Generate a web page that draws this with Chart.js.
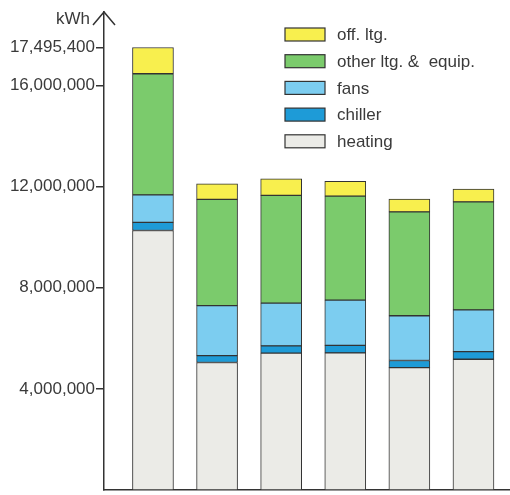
<!DOCTYPE html>
<html>
<head>
<meta charset="utf-8">
<script src="https://cdn.jsdelivr.net/npm/chart.js@4.4.1/dist/chart.umd.min.js"></script>
<style>
  html, body { margin: 0; padding: 0; background: #fff; }
  #wrap { width: 510px; height: 495px; }
</style>
</head>
<body>
<div id="wrap"><canvas id="c" width="510" height="495"></canvas></div>
<script>
// ---- data ----
const categories = ["Base case", "Alt. 1", "Alt. 2", "Alt. 3", "Alt. 4", "Alt. 5"];
const heating   = [10260000, 5040000, 5410000, 5420000, 4840000, 5170000];
const chiller   = [  320000,  270000,  290000,  300000,  280000,  300000];
const fans      = [ 1090000, 1980000, 1690000, 1790000, 1770000, 1650000];
const otherLtg  = [ 4790000, 4200000, 4260000, 4110000, 4110000, 4270000];
const offLtg    = [ 1035400,  620000,  650000,  580000,  500000,  510000];
const tickValues = [4000000, 8000000, 12000000, 16000000, 17495400];
const unitLabel = "kWh";

const seriesNames  = ["heating", "chiller", "fans", "other ltg. & equip.", "off. ltg."];
const seriesValues = [heating, chiller, fans, otherLtg, offLtg];
const seriesColors = ["#ebebe7", "#1e9bd7", "#7ccdf0", "#7bcb6c", "#f8ef4e"];

const FONT = '"Liberation Sans", Arial, Helvetica, sans-serif';
const TEXT = '#3a3a3a';
const LINE = '#333333';

const datasets = seriesNames.map((name, s) => ({
  label: name,
  data: seriesValues[s].map((v, i) => ({ x: i, y: v })),
  backgroundColor: seriesColors[s],
  borderColor: LINE,
  borderWidth: 1,
  borderSkipped: false,
  barThickness: 41
}));

const decor = {
  id: 'decor',
  afterDraw(chart) {
    const ctx = chart.ctx;
    const a = chart.chartArea;
    ctx.save();
    // axis arrow head
    ctx.strokeStyle = LINE;
    ctx.lineWidth = 1.5;
    ctx.beginPath();
    ctx.moveTo(a.left - 11, a.top + 13);
    ctx.lineTo(a.left, a.top);
    ctx.lineTo(a.left + 11, a.top + 13);
    ctx.stroke();
    // unit label
    ctx.fillStyle = TEXT;
    ctx.font = '17px ' + FONT;
    ctx.textAlign = 'right';
    ctx.textBaseline = 'middle';
    ctx.fillText(unitLabel, a.left - 14, 19);
    // legend (top item = last stacked series)
    const ds = chart.data.datasets;
    const bx = 285, bw = 40, bh = 13, y0 = 28, gap = 26.7;
    ctx.textAlign = 'left';
    for (let k = 0; k < ds.length; k++) {
      const d = ds[ds.length - 1 - k];
      const y = y0 + k * gap;
      ctx.fillStyle = d.backgroundColor;
      ctx.fillRect(bx, y, bw, bh);
      ctx.strokeStyle = LINE;
      ctx.lineWidth = 1.2;
      ctx.strokeRect(bx, y, bw, bh);
      ctx.fillStyle = TEXT;
      ctx.fillText(d.label.replace('& equip.', '&  equip.'), 337, y + bh / 2 + 1);
    }
    ctx.restore();
  }
};

new Chart(document.getElementById('c'), {
  type: 'bar',
  data: { labels: categories, datasets },
  options: {
    responsive: false,
    animation: false,
    layout: { padding: { top: 12, right: 0, left: 0, bottom: 0 } },
    plugins: { legend: { display: false }, tooltip: { enabled: false } },
    scales: {
      x: {
        type: 'linear',
        stacked: true,
        offset: false,
        min: -0.764,
        max: 5.57,
        grid: { display: false },
        ticks: { display: false },
        border: { display: true, color: LINE, width: 1.5 },
        afterFit(scale) { scale.height = 5; scale.paddingLeft = 0; scale.paddingRight = 0; }
      },
      y: {
        stacked: true,
        min: 0,
        max: 18900000,
        afterBuildTicks(scale) { scale.ticks = tickValues.map(v => ({ value: v })); },
        afterFit(scale) { scale.width = 104; scale.paddingTop = 0; scale.paddingBottom = 0; },
        grid: { drawOnChartArea: false, drawTicks: true, tickLength: 8, color: LINE, lineWidth: 1.5 },
        border: { display: true, color: LINE, width: 1.5 },
        ticks: {
          padding: 1,
          color: TEXT,
          font: { family: FONT, size: 17 },
          callback: v => Number(v).toLocaleString('en-US')
        }
      }
    }
  },
  plugins: [decor]
});
</script>
</body>
</html>
